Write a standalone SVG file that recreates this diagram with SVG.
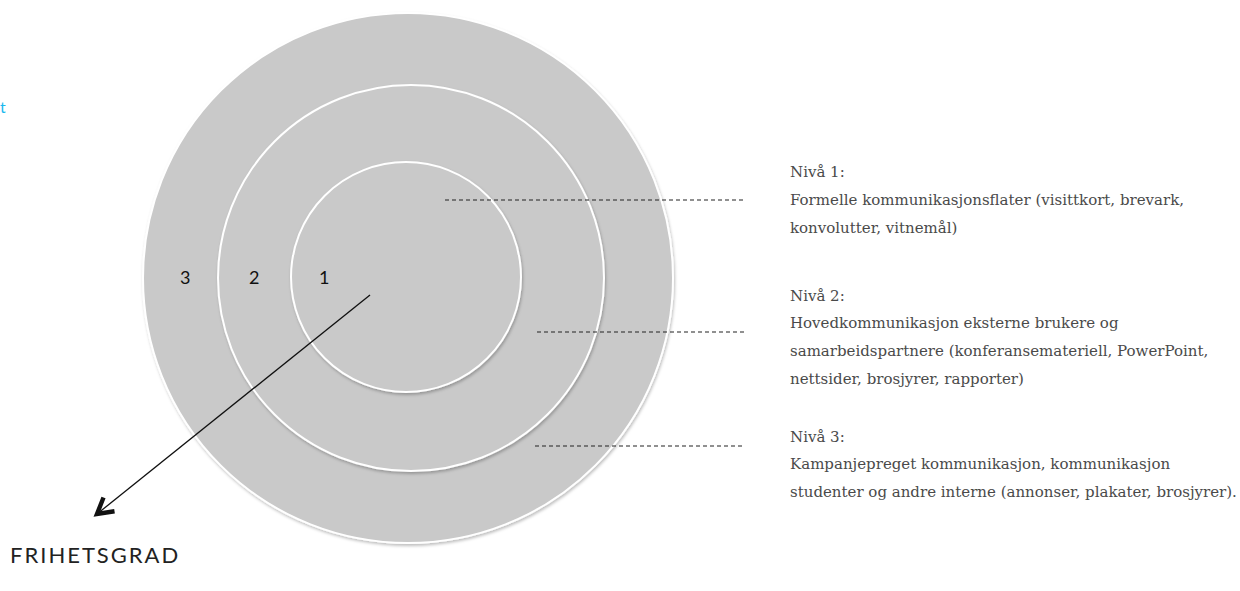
<svg xmlns="http://www.w3.org/2000/svg" width="1240" height="591" viewBox="0 0 1240 591">
<defs>
<filter id="sh" x="-10%" y="-10%" width="120%" height="120%">
<feDropShadow dx="1" dy="2" stdDeviation="1.5" flood-color="#000" flood-opacity="0.25"/>
</filter>
<marker id="chev" viewBox="0 0 20 20" refX="16" refY="10" markerWidth="22" markerHeight="22" markerUnits="userSpaceOnUse" orient="auto">
<path d="M2,2 L16,10 L2,18" fill="none" stroke="#111" stroke-width="4" stroke-linejoin="miter"/>
</marker>
<style>
.ring{fill:#c9c9c9;stroke:#ffffff;stroke-width:2;filter:url(#sh);}
.num{font-family:"Lato","DejaVu Sans",sans-serif;font-size:18px;fill:#111;}
.lbl{font-family:"DejaVu Serif","Liberation Serif",serif;font-size:15px;fill:#4a4a4a;}
.dash{stroke:#222;stroke-width:1.2;stroke-dasharray:4 3;fill:none;}
</style>
</defs>
<rect width="1240" height="591" fill="#ffffff"/>
<text x="0" y="113" font-family="Lato, sans-serif" font-size="16" fill="#1ab8ee">t</text>
<g id="ring3"><circle class="ring" cx="408" cy="278" r="265"/></g>
<g id="ring2"><circle class="ring" cx="411" cy="278" r="193"/></g>
<g id="ring1"><circle class="ring" cx="406" cy="277" r="115"/></g>
<g id="numbers">
<text class="num" x="180" y="284">3</text>
<text class="num" x="249" y="284">2</text>
<text class="num" x="319" y="284">1</text>
</g>
<g id="connectors">
<line class="dash" x1="445" y1="200" x2="745" y2="200"/>
<line class="dash" x1="537" y1="332" x2="745" y2="332"/>
<line class="dash" x1="535" y1="446" x2="745" y2="446"/>
<line x1="370" y1="295" x2="97" y2="514" stroke="#111" stroke-width="1.3" marker-end="url(#chev)"/>
</g>
<g id="frihetsgrad"><text x="10" y="563" font-family="Lato, sans-serif" font-size="22" fill="#222" letter-spacing="2">FRIHETSGRAD</text></g>
<g id="label1">
<text class="lbl" x="790" y="177">Nivå 1:</text>
<text class="lbl" x="790" y="205">Formelle kommunikasjonsflater (visittkort, brevark,</text>
<text class="lbl" x="790" y="233">konvolutter, vitnemål)</text>
</g>
<g id="label2">
<text class="lbl" x="790" y="301">Nivå 2:</text>
<text class="lbl" x="790" y="328">Hovedkommunikasjon eksterne brukere og</text>
<text class="lbl" x="790" y="356">samarbeidspartnere (konferansemateriell, PowerPoint,</text>
<text class="lbl" x="790" y="384">nettsider, brosjyrer, rapporter)</text>
</g>
<g id="label3">
<text class="lbl" x="790" y="442">Nivå 3:</text>
<text class="lbl" x="790" y="469">Kampanjepreget kommunikasjon, kommunikasjon</text>
<text class="lbl" x="790" y="497">studenter og andre interne (annonser, plakater, brosjyrer).</text>
</g>
</svg>
